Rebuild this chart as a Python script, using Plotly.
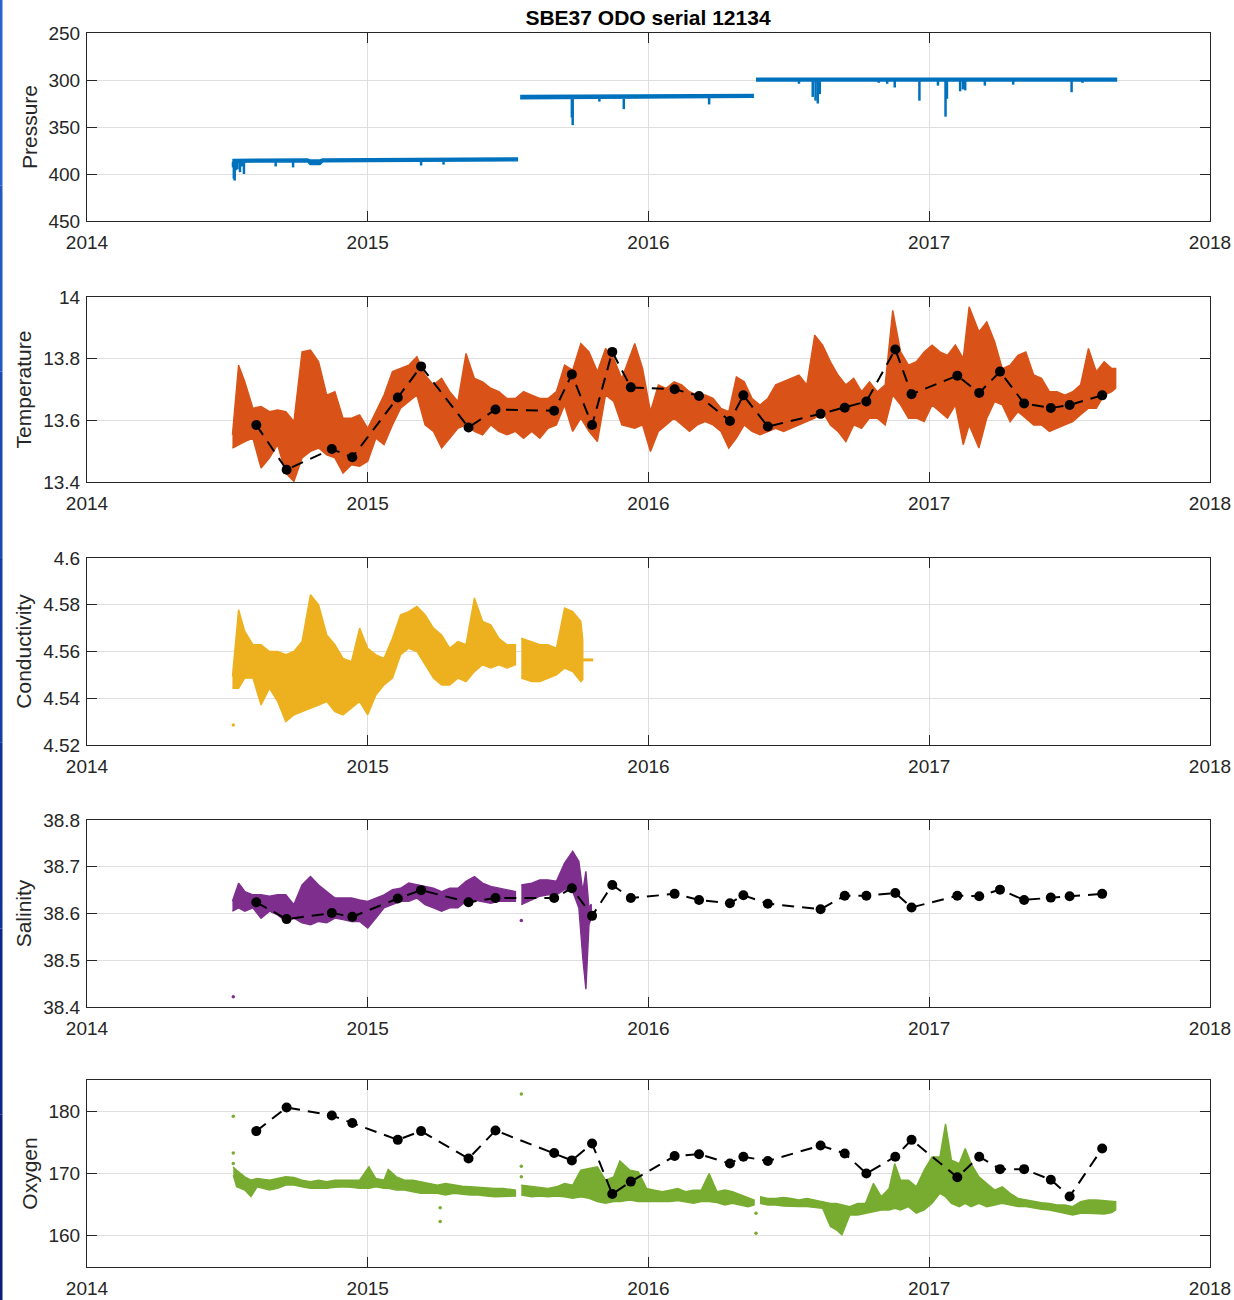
import plotly.graph_objects as go
from plotly.subplots import make_subplots

# ---------------- data (time in decimal years) ----------------
years = [2014, 2015, 2016, 2017, 2018]
year_labels = ["2014", "2015", "2016", "2017", "2018"]

# Pressure: three deployments, upper (shallowest) and lower (deepest) envelope
press1_t = [2014.518, 2014.785, 2014.795, 2014.830, 2014.840, 2015.533]
press1_top = [384.5, 384, 385, 385, 384, 383]
press1_bot = [387.5, 387, 390, 390, 387, 386]
press2_t = [2015.543, 2016.373]
press2_top = [316.5, 315.5]
press2_bot = [320, 318.5]
press3_t = [2016.383, 2017.667]
press3_top = [298, 298]
press3_bot = [301, 301]
# short excursions to higher pressure (mooring knock-downs)
press_spike_t = [2014.520, 2014.523, 2014.526, 2014.530, 2014.536, 2014.545, 2014.552, 2014.559,
                 2014.672, 2014.734, 2015.190, 2015.270,
                 2015.727, 2015.730, 2015.825, 2015.912, 2016.216,
                 2016.536, 2016.585, 2016.595, 2016.603, 2016.610, 2016.820, 2016.850, 2016.877,
                 2016.965, 2017.031, 2017.058, 2017.063, 2017.110, 2017.120, 2017.128, 2017.198,
                 2017.299, 2017.507, 2017.546]
press_spike_base = [387, 387, 387, 387, 387, 387, 387, 387,
                    387, 387, 387, 387,
                    320, 320, 320, 320, 319,
                    301, 301, 301, 301, 301, 301, 301, 301,
                    301, 301, 301, 301, 301, 301, 301, 301,
                    301, 301, 301]
press_spike_p = [393, 405, 407, 396, 395, 398, 392, 400,
                 392, 393, 391, 390,
                 340, 348, 323, 331, 326,
                 304, 318, 322, 325, 315, 303, 304, 308,
                 322, 306, 339, 320, 312, 310, 311, 306,
                 305, 313, 303]

# Temperature envelope
temp_t = [2014.518, 2014.540, 2014.562, 2014.591, 2014.620, 2014.650, 2014.679, 2014.708,
          2014.737, 2014.766, 2014.796, 2014.825, 2014.854, 2014.883, 2014.912, 2014.942,
          2014.971, 2015.000, 2015.029, 2015.058, 2015.088, 2015.117, 2015.146, 2015.175,
          2015.204, 2015.234, 2015.263, 2015.292, 2015.321, 2015.350, 2015.380, 2015.409,
          2015.438, 2015.467, 2015.496, 2015.526, 2015.555, 2015.584, 2015.613, 2015.642,
          2015.672, 2015.701, 2015.730, 2015.759, 2015.788, 2015.818, 2015.847, 2015.876,
          2015.905, 2015.951, 2015.979, 2016.007, 2016.035, 2016.063, 2016.091, 2016.118,
          2016.146, 2016.174, 2016.202, 2016.230, 2016.258, 2016.286, 2016.313, 2016.341,
          2016.369, 2016.397, 2016.425, 2016.453, 2016.481, 2016.508, 2016.536, 2016.564,
          2016.592, 2016.620, 2016.648, 2016.675, 2016.703, 2016.731, 2016.759, 2016.787,
          2016.815, 2016.843, 2016.870, 2016.898, 2016.926, 2016.954, 2016.982, 2017.010,
          2017.038, 2017.065, 2017.093, 2017.121, 2017.142, 2017.177, 2017.205, 2017.233,
          2017.260, 2017.288, 2017.316, 2017.344, 2017.372, 2017.400, 2017.428, 2017.455,
          2017.483, 2017.511, 2017.539, 2017.567, 2017.595, 2017.623, 2017.650, 2017.664]
temp_hi = [13.553, 13.779, 13.725, 13.639, 13.645, 13.628, 13.634, 13.628, 13.596, 13.822,
           13.828, 13.790, 13.682, 13.693, 13.607, 13.607, 13.618, 13.574, 13.628, 13.682,
           13.758, 13.768, 13.779, 13.806, 13.747, 13.715, 13.736, 13.693, 13.661, 13.817,
           13.736, 13.725, 13.704, 13.693, 13.671, 13.671, 13.693, 13.682, 13.671, 13.671,
           13.693, 13.779, 13.763, 13.849, 13.822, 13.758, 13.833, 13.801, 13.736, 13.849,
           13.768, 13.628, 13.715, 13.704, 13.725, 13.715, 13.693, 13.682, 13.682, 13.671,
           13.639, 13.628, 13.741, 13.725, 13.671, 13.650, 13.671, 13.715, 13.725, 13.736,
           13.747, 13.715, 13.876, 13.844, 13.790, 13.747, 13.715, 13.736, 13.693, 13.725,
           13.693, 13.715, 13.957, 13.822, 13.779, 13.790, 13.822, 13.844, 13.822, 13.811,
           13.844, 13.801, 13.968, 13.887, 13.919, 13.855, 13.768, 13.779, 13.811, 13.822,
           13.747, 13.736, 13.693, 13.693, 13.682, 13.693, 13.715, 13.833, 13.758, 13.790,
           13.768, 13.768]
temp_lo = [13.510, 13.521, 13.531, 13.542, 13.445, 13.478, 13.521, 13.429, 13.402, 13.478,
           13.499, 13.510, 13.488, 13.478, 13.429, 13.456, 13.451, 13.467, 13.542, 13.521,
           13.585, 13.639, 13.661, 13.682, 13.585, 13.564, 13.510, 13.542, 13.574, 13.585,
           13.564, 13.553, 13.585, 13.564, 13.553, 13.564, 13.542, 13.564, 13.542, 13.574,
           13.585, 13.650, 13.564, 13.607, 13.564, 13.531, 13.682, 13.661, 13.585, 13.574,
           13.585, 13.499, 13.564, 13.585, 13.607, 13.585, 13.564, 13.585, 13.596, 13.585,
           13.564, 13.510, 13.542, 13.585, 13.564, 13.553, 13.564, 13.574, 13.564, 13.574,
           13.585, 13.596, 13.607, 13.628, 13.585, 13.564, 13.531, 13.585, 13.574, 13.607,
           13.607, 13.585, 13.682, 13.650, 13.607, 13.607, 13.596, 13.650, 13.628, 13.607,
           13.650, 13.521, 13.585, 13.510, 13.607, 13.661, 13.650, 13.596, 13.628, 13.607,
           13.585, 13.585, 13.564, 13.574, 13.585, 13.596, 13.618, 13.639, 13.639, 13.682,
           13.693, 13.704]

# Conductivity envelope (two pieces) and the constant tail
cond1_t = [2014.518, 2014.540, 2014.562, 2014.591, 2014.620, 2014.650, 2014.679, 2014.708,
           2014.737, 2014.766, 2014.796, 2014.825, 2014.854, 2014.883, 2014.912, 2014.942,
           2014.971, 2015.000, 2015.029, 2015.058, 2015.088, 2015.117, 2015.146, 2015.175,
           2015.204, 2015.234, 2015.263, 2015.292, 2015.321, 2015.350, 2015.380, 2015.409,
           2015.438, 2015.467, 2015.496, 2015.526]
cond1_hi = [4.5493, 4.5779, 4.5686, 4.5629, 4.5629, 4.5600, 4.5600, 4.5586, 4.5600, 4.5643,
            4.5843, 4.5800, 4.5671, 4.5629, 4.5571, 4.5557, 4.5700, 4.5614, 4.5586, 4.5571,
            4.5657, 4.5757, 4.5771, 4.5793, 4.5757, 4.5700, 4.5671, 4.5614, 4.5643, 4.5629,
            4.5829, 4.5729, 4.5714, 4.5657, 4.5629, 4.5629]
cond1_lo = [4.5443, 4.5443, 4.5486, 4.5486, 4.5371, 4.5443, 4.5386, 4.5300, 4.5329, 4.5343,
            4.5357, 4.5371, 4.5386, 4.5343, 4.5329, 4.5357, 4.5386, 4.5329, 4.5414, 4.5457,
            4.5486, 4.5586, 4.5614, 4.5600, 4.5543, 4.5486, 4.5457, 4.5457, 4.5486, 4.5471,
            4.5514, 4.5543, 4.5529, 4.5543, 4.5529, 4.5543]
cond2_t = [2015.547, 2015.584, 2015.613, 2015.642, 2015.672, 2015.701, 2015.730, 2015.759,
           2015.766]
cond2_hi = [4.5657, 4.5643, 4.5629, 4.5629, 4.5614, 4.5786, 4.5771, 4.5729, 4.5650]
cond2_lo = [4.5486, 4.5471, 4.5471, 4.5486, 4.5500, 4.5529, 4.5514, 4.5471, 4.5480]
cond_tail_t = [2015.766, 2015.803]
cond_tail = [4.5564, 4.5564]
cond_out_t = [2014.521]
cond_out = [4.5286]

# Salinity envelope (two pieces) and isolated samples
sal1_t = cond1_t
sal1_hi = [38.626, 38.665, 38.647, 38.640, 38.640, 38.637, 38.640, 38.640, 38.619, 38.661,
           38.679, 38.661, 38.647, 38.633, 38.633, 38.633, 38.629, 38.626, 38.633, 38.640,
           38.651, 38.654, 38.665, 38.661, 38.658, 38.654, 38.647, 38.654, 38.654, 38.669,
           38.679, 38.665, 38.658, 38.654, 38.651, 38.647]
sal1_lo = [38.605, 38.612, 38.605, 38.612, 38.590, 38.605, 38.597, 38.583, 38.590, 38.580,
           38.576, 38.583, 38.580, 38.590, 38.587, 38.583, 38.583, 38.569, 38.590, 38.612,
           38.619, 38.626, 38.626, 38.633, 38.619, 38.612, 38.605, 38.612, 38.612, 38.626,
           38.629, 38.626, 38.622, 38.626, 38.626, 38.626]
sal2_t = [2015.547, 2015.584, 2015.613, 2015.642, 2015.672, 2015.701, 2015.730, 2015.752,
          2015.766, 2015.777, 2015.788, 2015.796]
sal2_hi = [38.661, 38.665, 38.672, 38.672, 38.669, 38.708, 38.733, 38.711, 38.647, 38.690,
           38.612, 38.620]
sal2_lo = [38.619, 38.629, 38.637, 38.640, 38.640, 38.651, 38.647, 38.612, 38.505, 38.438,
           38.576, 38.590]
sal_out_t = [2014.521, 2015.547]
sal_out = [38.422, 38.585]

# Oxygen envelope (three pieces) and isolated samples
oxy1_t = [2014.521, 2014.533, 2014.562, 2014.584, 2014.606, 2014.650, 2014.679, 2014.708,
          2014.737, 2014.766, 2014.796, 2014.825, 2014.854, 2014.883, 2014.912, 2014.942,
          2014.971, 2015.004, 2015.029, 2015.058, 2015.073, 2015.102, 2015.131, 2015.161,
          2015.190, 2015.219, 2015.248, 2015.277, 2015.307, 2015.336, 2015.365, 2015.394,
          2015.423, 2015.453, 2015.482, 2015.526]
oxy1_hi = [171.06, 170.53, 169.47, 168.94, 169.20, 168.94, 169.20, 169.47, 169.36, 168.94,
           168.67, 168.94, 168.67, 168.94, 168.94, 168.94, 168.94, 171.06, 169.20, 168.94,
           170.64, 169.47, 168.94, 168.94, 168.67, 168.40, 168.14, 168.40, 168.14, 167.98,
           167.87, 167.77, 167.61, 167.61, 167.61, 167.34]
oxy1_lo = [169.73, 167.87, 167.34, 166.28, 167.87, 167.34, 167.61, 168.14, 168.14, 167.87,
           167.61, 167.61, 167.61, 167.77, 167.87, 167.77, 167.61, 167.61, 167.87, 167.61,
           167.61, 167.34, 167.34, 167.07, 166.81, 166.81, 166.81, 166.54, 166.81, 166.70,
           166.54, 166.54, 166.38, 166.28, 166.28, 166.38]
oxy2_t = [2015.547, 2015.584, 2015.613, 2015.642, 2015.672, 2015.701, 2015.730, 2015.759,
          2015.788, 2015.818, 2015.847, 2015.876, 2015.898, 2015.934, 2015.964, 2015.993,
          2016.021, 2016.049, 2016.077, 2016.104, 2016.132, 2016.160, 2016.188, 2016.216,
          2016.244, 2016.272, 2016.299, 2016.327, 2016.355, 2016.376]
oxy2_hi = [168.14, 167.87, 167.77, 167.61, 167.87, 168.40, 168.14, 170.53, 170.80, 171.06,
           168.94, 169.47, 172.02, 170.53, 170.27, 167.61, 167.34, 167.07, 167.34, 167.61,
           167.07, 167.34, 167.34, 170.00, 167.07, 167.34, 167.07, 166.54, 166.01, 165.74]
oxy2_lo = [166.54, 166.28, 166.38, 166.28, 166.38, 166.28, 166.01, 166.28, 166.01, 165.48,
           165.21, 165.48, 165.48, 165.74, 165.48, 165.48, 165.48, 165.48, 165.48, 165.64,
           165.48, 165.21, 165.48, 165.48, 165.32, 164.95, 165.21, 164.95, 164.68, 164.95]
oxy3_t = [2016.397, 2016.425, 2016.453, 2016.481, 2016.508, 2016.536, 2016.564, 2016.592,
          2016.620, 2016.648, 2016.669, 2016.689, 2016.717, 2016.745, 2016.773, 2016.801,
          2016.829, 2016.857, 2016.877, 2016.898, 2016.926, 2016.954, 2016.982, 2017.010,
          2017.038, 2017.058, 2017.079, 2017.107, 2017.128, 2017.149, 2017.177, 2017.205,
          2017.233, 2017.260, 2017.288, 2017.316, 2017.344, 2017.372, 2017.400, 2017.428,
          2017.455, 2017.483, 2017.511, 2017.539, 2017.567, 2017.595, 2017.623, 2017.650,
          2017.664]
oxy3_hi = [166.28, 166.01, 166.01, 166.17, 166.01, 165.74, 166.01, 165.74, 165.48, 165.21,
           165.21, 164.95, 164.68, 165.21, 165.21, 168.40, 166.28, 167.61, 171.60, 168.94,
           168.94, 167.87, 170.53, 172.66, 172.66, 177.98, 172.13, 171.60, 173.99, 171.60,
           169.47, 168.40, 167.34, 167.87, 166.81, 166.01, 165.74, 165.48, 165.32, 165.21,
           164.95, 164.95, 164.68, 165.48, 165.74, 165.74, 165.64, 165.48, 165.48]
oxy3_lo = [165.21, 164.95, 164.95, 164.79, 164.68, 164.68, 164.68, 164.57, 164.41, 161.49,
           160.96, 160.16, 163.35, 163.35, 163.62, 163.88, 164.15, 164.15, 164.41, 164.15,
           164.68, 163.62, 164.15, 165.21, 166.81, 166.28, 165.21, 164.68, 165.21, 164.68,
           165.21, 164.68, 164.95, 165.21, 164.95, 164.68, 164.68, 164.41, 164.26, 164.15,
           163.88, 163.62, 163.35, 163.62, 163.62, 163.62, 163.51, 163.72, 164.15]
oxy_out_t = [2014.521, 2014.521, 2014.521, 2015.258, 2015.258, 2015.547, 2015.547, 2015.547,
             2016.383, 2016.383]
oxy_out = [179.20, 173.30, 171.60, 164.52, 162.29, 182.77, 171.17, 169.47, 163.62, 160.43]

# Bottle / CTD-cast reference values
ctd_t = [2014.603, 2014.711, 2014.872, 2014.945, 2015.107, 2015.190, 2015.359, 2015.455,
         2015.664, 2015.727, 2015.799, 2015.871, 2015.937, 2016.093, 2016.180, 2016.290,
         2016.338, 2016.425, 2016.613, 2016.699, 2016.776, 2016.879, 2016.937, 2017.100,
         2017.178, 2017.252, 2017.338, 2017.433, 2017.500, 2017.616]
ctd_temp = [13.585, 13.440, 13.507, 13.480, 13.674, 13.775, 13.577, 13.635, 13.631, 13.749,
            13.585, 13.822, 13.707, 13.701, 13.679, 13.598, 13.681, 13.580, 13.621, 13.641,
            13.661, 13.830, 13.685, 13.745, 13.689, 13.758, 13.655, 13.640, 13.650, 13.681]
ctd_sal = [38.624, 38.588, 38.601, 38.593, 38.632, 38.650, 38.624, 38.633, 38.633, 38.654,
           38.595, 38.661, 38.633, 38.642, 38.629, 38.622, 38.639, 38.621, 38.609, 38.638,
           38.638, 38.644, 38.613, 38.638, 38.637, 38.651, 38.629, 38.634, 38.637, 38.642]
ctd_oxy = [176.8, 180.6, 179.3, 178.1, 175.4, 176.8, 172.4, 176.9, 173.3, 172.1, 174.8, 166.7,
           168.7, 172.8, 173.1, 171.6, 172.7, 172.0, 174.5, 173.2, 170.0, 172.7, 175.4, 169.4,
           172.7, 170.7, 170.7, 169.0, 166.3, 174.0]

# axis ticks
press_ticks = [250, 300, 350, 400, 450]
temp_ticks = [13.4, 13.6, 13.8, 14.0]
temp_labels = ["13.4", "13.6", "13.8", "14"]
cond_ticks = [4.52, 4.54, 4.56, 4.58, 4.60]
cond_labels = ["4.52", "4.54", "4.56", "4.58", "4.6"]
sal_ticks = [38.4, 38.5, 38.6, 38.7, 38.8]
sal_labels = ["38.4", "38.5", "38.6", "38.7", "38.8"]
oxy_ticks = [160, 170, 180]

# ---------------- styling ----------------
BLUE, ORANGE, YELLOW = "#0072BD", "#D95319", "#EDB120"
PURPLE, GREEN = "#7E2F8E", "#77AC30"
AXIS_C, GRID_C = "#262626", "#dfdfdf"
FONT = "Liberation Sans, Arial, Helvetica, sans-serif"
W, H = 1234, 1300

fig = make_subplots(rows=5, cols=1)


def band(t, hi, lo, color, row):
    fig.add_trace(go.Scatter(x=list(t) + list(t)[::-1], y=list(hi) + list(lo)[::-1],
                             mode="lines", fill="toself", fillcolor=color,
                             line=dict(color=color, width=1.4), hoverinfo="skip"),
                  row=row, col=1)


def dots(t, v, color, row):
    fig.add_trace(go.Scatter(x=t, y=v, mode="markers",
                             marker=dict(color=color, size=3.5, line=dict(width=0))),
                  row=row, col=1)


def casts(t, v, row):
    fig.add_trace(go.Scatter(x=t, y=v, mode="lines+markers",
                             line=dict(color="black", width=2, dash="12px,8px"),
                             marker=dict(color="black", size=10)),
                  row=row, col=1)


# Pressure
band(press1_t, press1_top, press1_bot, BLUE, 1)
band(press2_t, press2_top, press2_bot, BLUE, 1)
band(press3_t, press3_top, press3_bot, BLUE, 1)
sx, sy = [], []
for t, b, p in zip(press_spike_t, press_spike_base, press_spike_p):
    sx += [t, t, None]
    sy += [b, p, None]
fig.add_trace(go.Scatter(x=sx, y=sy, mode="lines", line=dict(color=BLUE, width=2.5),
                         hoverinfo="skip"), row=1, col=1)
# Temperature
band(temp_t, temp_hi, temp_lo, ORANGE, 2)
casts(ctd_t, ctd_temp, 2)
# Conductivity
band(cond1_t, cond1_hi, cond1_lo, YELLOW, 3)
band(cond2_t, cond2_hi, cond2_lo, YELLOW, 3)
fig.add_trace(go.Scatter(x=cond_tail_t, y=cond_tail, mode="lines",
                         line=dict(color=YELLOW, width=3)), row=3, col=1)
dots(cond_out_t, cond_out, YELLOW, 3)
# Salinity
band(sal1_t, sal1_hi, sal1_lo, PURPLE, 4)
band(sal2_t, sal2_hi, sal2_lo, PURPLE, 4)
dots(sal_out_t, sal_out, PURPLE, 4)
casts(ctd_t, ctd_sal, 4)
# Oxygen
band(oxy1_t, oxy1_hi, oxy1_lo, GREEN, 5)
band(oxy2_t, oxy2_hi, oxy2_lo, GREEN, 5)
band(oxy3_t, oxy3_hi, oxy3_lo, GREEN, 5)
dots(oxy_out_t, oxy_out, GREEN, 5)
casts(ctd_t, ctd_oxy, 5)

# panel placement in pixels (top, bottom)
panels = [(33, 221), (297, 482), (558, 745), (820, 1007), (1080, 1267)]
x_dom = [87 / W, 1210 / W]

y_specs = [
    dict(title="Pressure", range=[450, 250], tickvals=press_ticks,
         ticktext=[str(v) for v in press_ticks]),
    dict(title="Temperature", range=[13.4, 14.0], tickvals=temp_ticks, ticktext=temp_labels),
    dict(title="Conductivity", range=[4.52, 4.60], tickvals=cond_ticks, ticktext=cond_labels),
    dict(title="Salinity", range=[38.4, 38.8], tickvals=sal_ticks, ticktext=sal_labels),
    dict(title="Oxygen", range=[155, 185], tickvals=oxy_ticks,
         ticktext=[str(v) for v in oxy_ticks]),
]

common = dict(showgrid=True, gridcolor=GRID_C, gridwidth=1, showline=True, linecolor=AXIS_C,
              linewidth=1, mirror="ticks", ticks="inside", ticklen=10, tickcolor=AXIS_C,
              tickwidth=1, zeroline=False, automargin=False,
              tickfont=dict(family=FONT, size=19, color=AXIS_C))

for i, ((top, bot), spec) in enumerate(zip(panels, y_specs), start=1):
    fig.update_xaxes(row=i, col=1, range=[2014, 2018], tickvals=years, ticktext=year_labels,
                     domain=x_dom, ticklabelstandoff=4, **common)
    fig.update_yaxes(row=i, col=1, range=spec["range"], tickvals=spec["tickvals"],
                     ticktext=spec["ticktext"], domain=[1 - bot / H, 1 - top / H],
                     ticklabelstandoff=2,
                     title=dict(text=spec["title"], standoff=5,
                                font=dict(family=FONT, size=21, color=AXIS_C)),
                     **common)

fig.update_layout(
    width=W, height=H, margin=dict(l=0, r=0, t=0, b=0, autoexpand=False),
    paper_bgcolor="white", plot_bgcolor="white", showlegend=False,
    title=dict(text="<b>SBE37 ODO serial 12134</b>", x=648 / W, y=1 - 18 / H,
               xanchor="center", yanchor="middle",
               font=dict(family=FONT, size=21, color="black")),
)

# window edge strip on the left
strip = ["#2a63cf", "#2258c4", "#1a4bb5", "#143ea5", "#0f3296", "#0b2788", "#091f7c"]
n = len(strip)
for k, c in enumerate(strip):
    fig.add_shape(type="rect", xref="paper", yref="paper", x0=0, x1=2.5 / W,
                  y0=1 - (k + 1) / n, y1=1 - k / n, fillcolor=c, line=dict(width=0),
                  layer="above")

fig.write_html("out.html")
